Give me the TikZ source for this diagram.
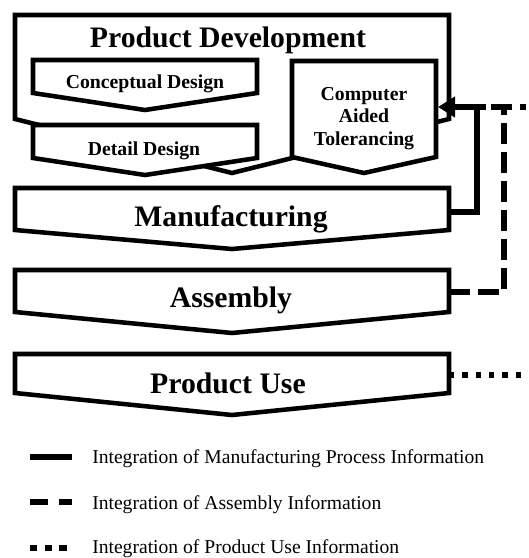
\documentclass[tikz,border=0pt]{standalone}
\usepackage{fontspec}
\setmainfont{Liberation Serif}
\usetikzlibrary{arrows.meta}
\newcommand\chevshape[5]{\draw[box] (#1,#2) -- (#3,#2) -- (#3,#4) -- ({(#1+#3)/2},#5) -- (#1,#4) -- cycle;}
\begin{document}
\begin{tikzpicture}[x=0.75pt,y=-0.75pt,
  box/.style={draw=black, fill=white, line width=3.4pt, line join=miter},
  big/.style={font=\bfseries\fontsize{22.3}{26}\selectfont, anchor=base, inner sep=0pt},
  mid/.style={font=\bfseries\fontsize{14.8}{16.8}\selectfont, inner sep=0pt},
  leg/.style={font=\fontsize{14.7}{16}\selectfont, anchor=base west, inner sep=0pt},
  conn/.style={line width=4.8pt},
  dashconn/.style={conn, dash pattern=on 15.75pt off 6pt},
  dotconn/.style={conn, dash pattern=on 4pt off 6pt},
  legline/.style={line width=5.2pt}]
\useasboundingbox (0,0) rectangle (529,558);
\clip (0,0) rectangle (529,558);
% shapes
\chevshape{15}{15}{449}{119}{173}
\chevshape{33}{60}{257}{93}{110}
\chevshape{33}{125}{257}{158}{175}
\chevshape{292}{61}{436}{157}{173}
\chevshape{15}{188}{449}{230}{249}
\chevshape{15}{270}{449}{312}{333}
\chevshape{15}{354}{449}{393}{415}
% texts
\node[big] (pd) at (228,47) {Product Development};
\node[mid, anchor=base] (cd) at (145,88) {Conceptual Design};
\node[mid, anchor=base] (dd) at (144,155) {Detail Design};
\node[mid, align=center] (cat) at (364,118.5) {Computer\\Aided\\Tolerancing};
\node[big] (mfg) at (231,226) {Manufacturing};
\node[big] (asm) at (231,307) {Assembly};
\node[big] (use) at (228,393) {Product Use};
% connection points
\coordinate (catR) at (438,107);
\coordinate (mfgR) at (449,212);
\coordinate (asmR) at (449,292);
\coordinate (useR) at (449,375);
\coordinate (sX) at (477,107);
\coordinate (dX) at (504,107);
\coordinate (pX) at (560,107);
% connectors
\draw[dotconn] (useR) -- (useR -| pX) -- (pX) -- (sX);
\draw[dashconn] (asmR) -- (asmR -| dX) -- (dX) -- (sX);
\draw[conn, -{Triangle[length=12.75pt,width=15pt]}] (mfgR) -- (mfgR -| sX) -- (sX) -- (catR);
% legend
\coordinate (l1a) at (30,457); \coordinate (l1b) at (72,457);
\coordinate (l2a) at (30,502); \coordinate (l2b) at (72,502);
\coordinate (l3a) at (30,548); \coordinate (l3b) at (67,548);
\draw[legline] (l1a) -- (l1b);
\draw[legline, dash pattern=on 13.5pt off 8pt on 10pt off 10pt] (l2a) -- (l2b);
\draw[legline, dash pattern=on 5.4pt off 5.6pt] (l3a) -- (l3b);
\node[leg] (t1) at (92,463) {Integration of Manufacturing Process Information};
\node[leg] (t2) at (92,509) {Integration of Assembly Information};
\node[leg] (t3) at (92,553) {Integration of Product Use Information};
\end{tikzpicture}
\end{document}
